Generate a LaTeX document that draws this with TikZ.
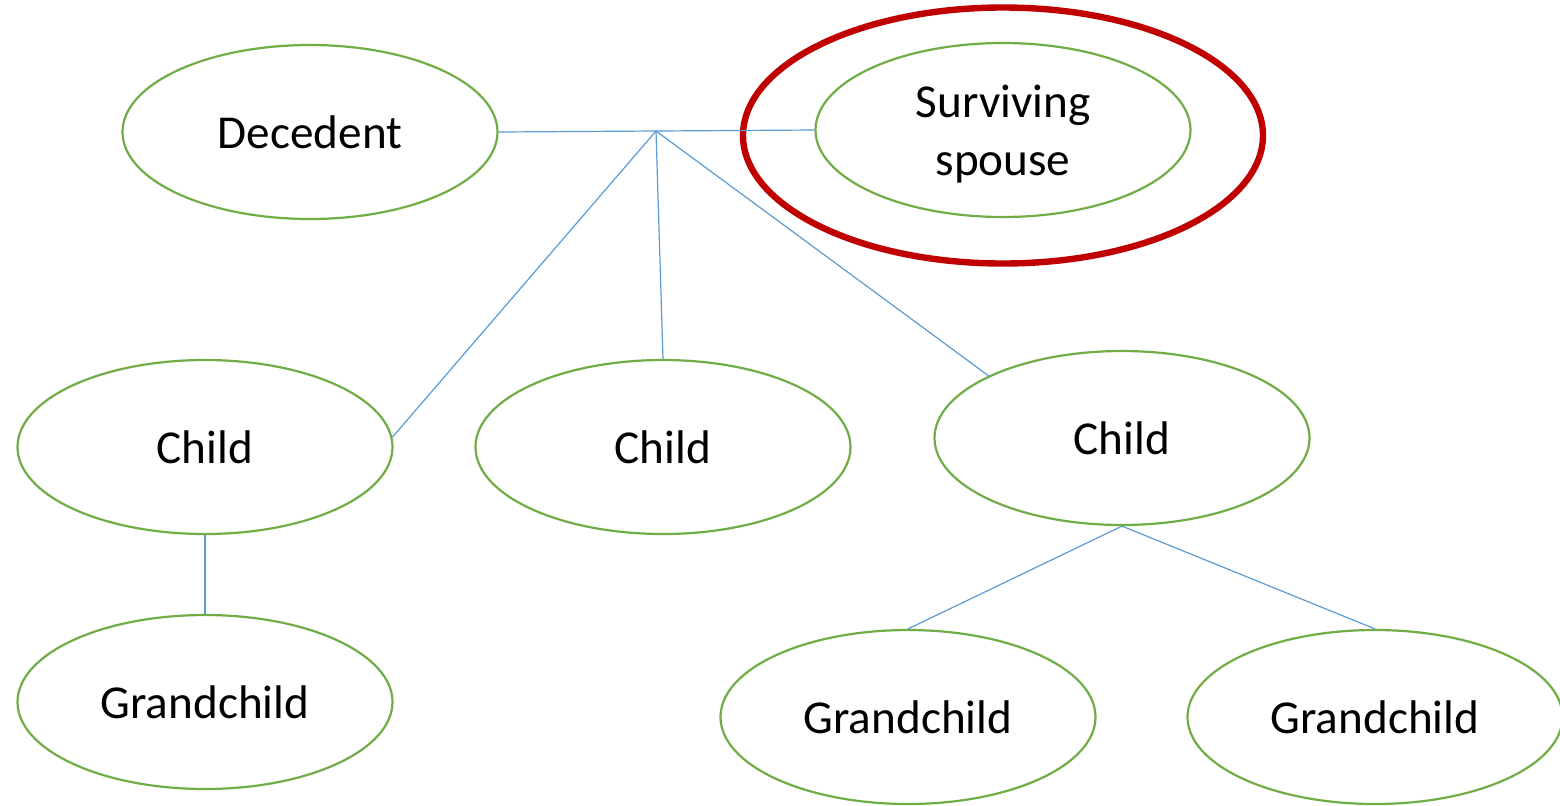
\documentclass[tikz,border=0pt]{standalone}
\usepackage{fontspec}
\setmainfont{Carlito}
\usetikzlibrary{shapes.geometric}
\definecolor{ovalgreen}{HTML}{70AD47}
\definecolor{linkblue}{HTML}{5B9BD5}
\definecolor{ringred}{HTML}{C00000}
\begin{document}
\begin{tikzpicture}[x=0.5pt,y=-0.5pt,
  namefont/.style={font=\fontsize{23.6}{29}\selectfont,align=center},
  person/.style={ellipse,draw=ovalgreen,line width=1.1pt,fill=white,
    minimum width=187.5pt,minimum height=87pt,inner sep=0pt,namefont},
  link/.style={draw=linkblue,line width=0.6pt}]
\useasboundingbox (0,0) rectangle (1560,805);
\fill[white] (0,0) rectangle (1560,805);

% highlight ring around the spouse
\draw[ringred,line width=3.2pt] (1003,135.5) ellipse [x radius=130pt,y radius=64pt];

% people
\node[person] (dec) at (310,132) {Decedent};
\node[person] (sp) at (1003,130) {};
\node[namefont,inner sep=0pt] (sptext) at (1003,134) {Surviving\\spouse};
\node[person] (c1) at (205,447) {Child};
\node[person] (c2) at (663,447) {Child};
\node[person] (c3) at (1122,438) {Child};
\node[person] (g1) at (205,702) {Grandchild};
\node[person] (g2) at (908,717) {Grandchild};
\node[person] (g3) at (1375,717) {Grandchild};

% family links
\coordinate (j) at (656,131);
\draw[link] (dec.east) -- (sp.west);
\draw[link] (j) -- (c1.3);
\draw[link] (j) -- (c2.north);
\draw[link] (j) -- (c3.155);
\draw[link] (c1.south) -- (g1.north);
\draw[link] (c3.south) -- (g2.north);
\draw[link] (c3.south) -- (g3.north);
\end{tikzpicture}
\end{document}
